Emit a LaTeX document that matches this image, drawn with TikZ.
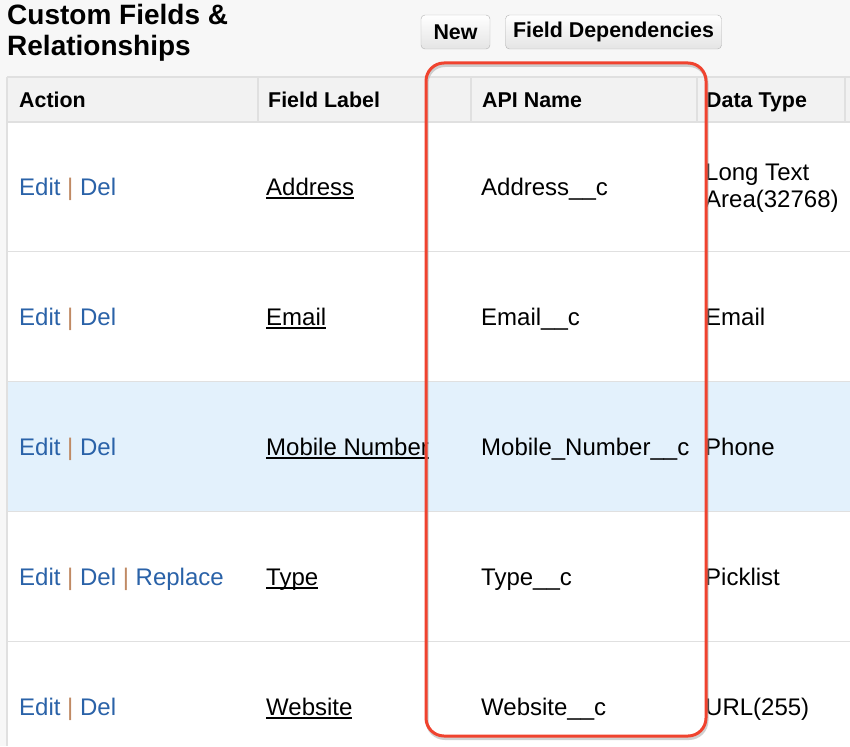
\documentclass[tikz,border=0pt]{standalone}
\usepackage{fontspec}
\setmainfont{Liberation Sans}
\definecolor{link-blue}{HTML}{2A62A8}
\definecolor{sep-brown}{HTML}{C08A64}
\definecolor{row-blue}{HTML}{E3F1FC}
\definecolor{head-gray}{HTML}{F2F2F2}
\definecolor{line-gray}{HTML}{E0E0E0}
\definecolor{box-red}{HTML}{F0432F}
\definecolor{page-gray}{HTML}{F7F7F7}
\definecolor{btn-gray}{HTML}{E4E4E4}
\newcommand{\cellfont}{\fontsize{24}{28}\selectfont}
\newcommand{\headfont}{\fontsize{21.4}{24}\selectfont\bfseries}
\newcommand{\titlefont}{\fontsize{28}{31}\selectfont\bfseries}
\newcommand{\actsep}{\textcolor{sep-brown}{|}}
\newcommand{\fieldul}[1]{\setbox0\hbox{#1}\rlap{\rule[-3.5pt]{\wd0}{1.7pt}}\box0}

\begin{document}
\begin{tikzpicture}[x=1pt,y=-1pt,
  cell/.style={anchor=base west, inner sep=0pt, font=\cellfont},
  action/.style={cell, text=link-blue},
  head/.style={anchor=base west, inner sep=0pt, font=\headfont},
  btn/.style={draw=black!30, rounded corners=4pt, top color=white, bottom color=btn-gray,
    minimum height=34pt, inner sep=0pt, font=\headfont}]%Custom fields table
\useasboundingbox (0,0) rectangle (850,746);
\fill[page-gray] (0,0) rectangle (850,746);
% title and buttons
  \node[anchor=base west, inner sep=0pt, font=\titlefont] (title1) at (7,25) {Custom Fields \&};
  \node[anchor=base west, inner sep=0pt, font=\titlefont] (title2) at (7,56) {Relationships};
  \node[btn, minimum width=69pt] (btnnew) at (455.5,32) {New};
  \node[btn, minimum width=216pt] (btndep) at (613.5,32) {Field Dependencies};
% table body
\fill[white] (7,77) rectangle (850,746);
\fill[head-gray] (7,77) rectangle (850,122);
\fill[row-blue] (7,381) rectangle (850,511);
  \draw[line-gray, line width=2pt] (7,77) -- (850,77);
  \draw[line-gray, line width=2pt] (7,122) -- (850,122);
  \draw[line-gray, line width=2pt] (7,77) -- (7,746);
\foreach \x in {258,471,697,845}
  \draw[line-gray, line width=2pt] (\x,77) -- (\x,122);
\foreach \y in {251,381,511,641}
  \draw[line-gray, line width=1pt] (7,\y) -- (850,\y);
% header
  \node[head] (hdaction) at (19,108) {Action};
  \node[head] (hdlabel) at (268,108) {Field Label};
  \node[head] (hdapi) at (482,108) {API Name};
  \node[head] (hdtype) at (706,108) {Data Type};
% rows
  \node[action] (act1) at (19,195) {Edit \actsep{} Del};
  \node[cell] (lab1) at (266,195) {\fieldul{Address}};
  \node[cell] (api1) at (481,195) {Address\_\_c};
  \node[cell] (typ1a) at (705,180) {Long Text};
  \node[cell] (typ1b) at (705,207) {Area(32768)};
  \node[action] (act2) at (19,325) {Edit \actsep{} Del};
  \node[cell] (lab2) at (266,325) {\fieldul{Email}};
  \node[cell] (api2) at (481,325) {Email\_\_c};
  \node[cell] (typ2) at (705,325) {Email};
  \node[action] (act3) at (19,455) {Edit \actsep{} Del};
  \node[cell] (lab3) at (266,455) {\fieldul{Mobile Number}};
  \node[cell] (api3) at (481,455) {Mobile\_Number\_\_c};
  \node[cell] (typ3) at (705,455) {Phone};
  \node[action] (act4) at (19,585) {Edit \actsep{} Del \actsep{} Replace};
  \node[cell] (lab4) at (266,585) {\fieldul{Type}};
  \node[cell] (api4) at (481,585) {Type\_\_c};
  \node[cell] (typ4) at (705,585) {Picklist};
  \node[action] (act5) at (19,715) {Edit \actsep{} Del};
  \node[cell] (lab5) at (266,715) {\fieldul{Website}};
  \node[cell] (api5) at (481,715) {Website\_\_c};
  \node[cell] (typ5) at (705,715) {URL(255)};
% red frame round the API Name column
  \draw[black!30, line width=3pt, rounded corners=18pt, opacity=0.6] (427,65.5) rectangle (707,738.5);
  \draw[box-red, line width=3pt, rounded corners=18pt] (426,63) rectangle (706,736);
\end{tikzpicture}
\end{document}
